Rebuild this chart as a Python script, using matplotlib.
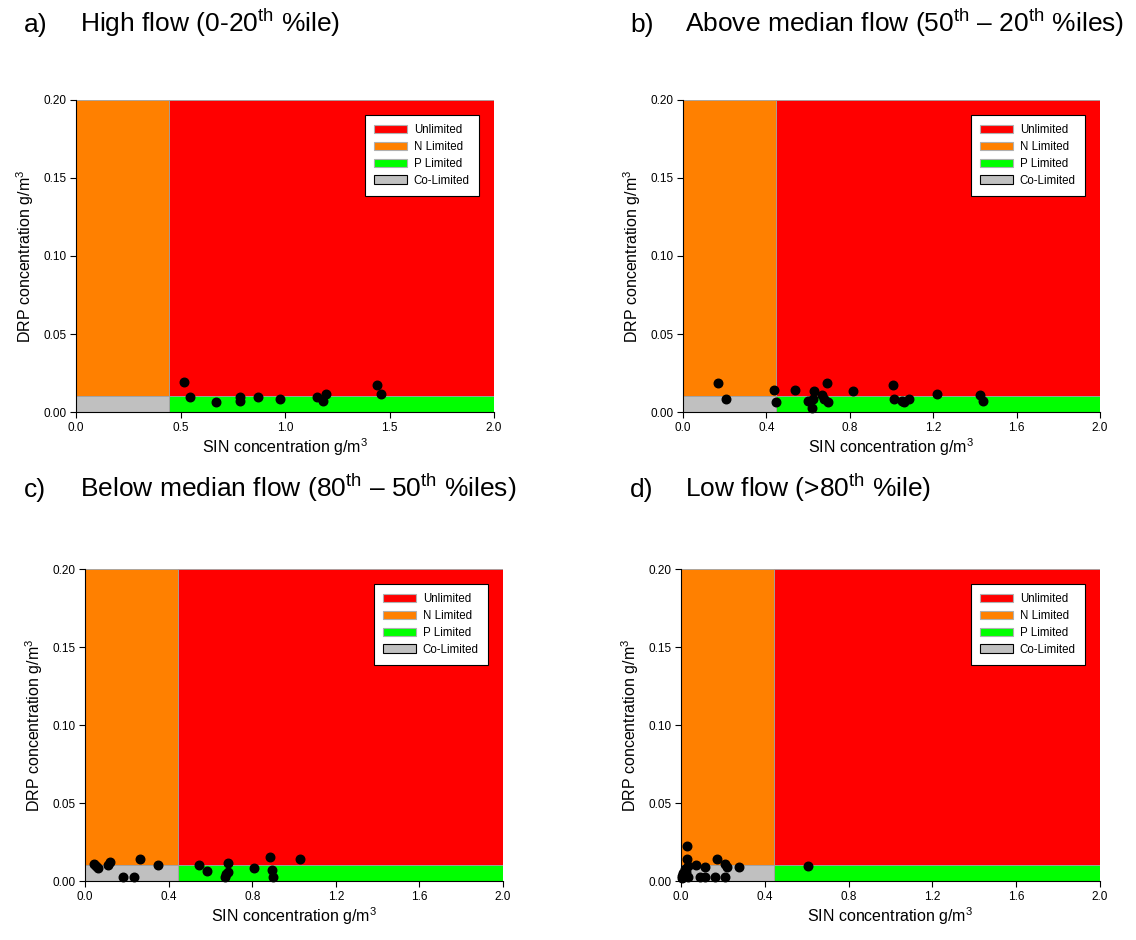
import matplotlib as mpl

mpl.use("Agg")

import matplotlib.pyplot as plt
from matplotlib.patches import Patch, Rectangle

plt.rcParams["font.family"] = ["Liberation Sans", "DejaVu Sans"]
plt.rcParams["mathtext.fontset"] = "custom"
plt.rcParams["mathtext.rm"] = "Liberation Sans"
plt.rcParams["mathtext.it"] = "Liberation Sans"

# thresholds for limitation classes
SIN_LIMIT = 0.444
DRP_LIMIT = 0.01

# a) high flow
a_sin = [0.519, 0.546, 0.669, 0.784, 0.784, 0.873, 0.976, 1.155, 1.182, 1.196, 1.439, 1.460]
a_drp = [0.0192, 0.0094, 0.0062, 0.0094, 0.0072, 0.0094, 0.0083, 0.0094, 0.0072, 0.0115, 0.0173, 0.0113]

# b) above median flow
b_sin = [0.169, 0.204, 0.437, 0.445, 0.537, 0.601, 0.617, 0.625, 0.630, 0.665, 0.676,
         0.690, 0.694, 0.816, 1.008, 1.014, 1.051, 1.062, 1.086, 1.218, 1.424, 1.440]
b_drp = [0.0183, 0.0083, 0.0143, 0.0062, 0.0143, 0.0072, 0.0028, 0.0085, 0.0132, 0.0106, 0.0085,
         0.0188, 0.0062, 0.0135, 0.0173, 0.0083, 0.0072, 0.0062, 0.0083, 0.0113, 0.0106, 0.0072]

# c) below median flow
c_sin = [0.041, 0.053, 0.064, 0.108, 0.118, 0.182, 0.236, 0.262, 0.348, 0.547,
         0.583, 0.668, 0.674, 0.682, 0.684, 0.809, 0.884, 0.895, 0.900, 1.028]
c_drp = [0.0109, 0.0096, 0.0081, 0.0105, 0.0124, 0.0028, 0.0028, 0.0144, 0.0105, 0.0105,
         0.0064, 0.0026, 0.0043, 0.0056, 0.0113, 0.0083, 0.0154, 0.0073, 0.0028, 0.0144]

# d) low flow
d_sin = [0.030, 0.027, 0.032, 0.019, 0.011, 0.006, 0.032, 0.070, 0.091, 0.115, 0.115,
         0.162, 0.173, 0.210, 0.218, 0.210, 0.278, 0.608, 0.012, 0.004, 0.022]
d_drp = [0.0224, 0.0144, 0.0096, 0.0079, 0.0054, 0.0032, 0.0028, 0.0105, 0.0028, 0.0092, 0.0028,
         0.0028, 0.0139, 0.0109, 0.0088, 0.0028, 0.0092, 0.0094, 0.0040, 0.0020, 0.0060]

titles = [
    ("a)", r"High flow (0-20$^{\mathrm{th}}$ %ile)"),
    ("b)", r"Above median flow (50$^{\mathrm{th}}$ – 20$^{\mathrm{th}}$ %iles)"),
    ("c)", r"Below median flow (80$^{\mathrm{th}}$ – 50$^{\mathrm{th}}$ %iles)"),
    ("d)", r"Low flow (>80$^{\mathrm{th}}$ %ile)"),
]
xticks_a = [0.0, 0.5, 1.0, 1.5, 2.0]
xticks_other = [0.0, 0.4, 0.8, 1.2, 1.6, 2.0]
yticks = [0.00, 0.05, 0.10, 0.15, 0.20]

RED = "#ff0000"
ORANGE = "#ff8000"
GREEN = "#00ff00"
GREY = "#c0c0c0"


def draw_panel(ax, sin, drp, xticks):
    ax.set_xlim(0, 2.0)
    ax.set_ylim(0, 0.20)
    ec = "#a0a0a0"
    ax.add_patch(Rectangle((SIN_LIMIT, DRP_LIMIT), 2.0 - SIN_LIMIT, 0.20 - DRP_LIMIT,
                           fc=RED, ec=ec, lw=0.6, zorder=1))
    ax.add_patch(Rectangle((0, DRP_LIMIT), SIN_LIMIT, 0.20 - DRP_LIMIT,
                           fc=ORANGE, ec=ec, lw=0.6, zorder=1))
    ax.add_patch(Rectangle((SIN_LIMIT, 0), 2.0 - SIN_LIMIT, DRP_LIMIT,
                           fc=GREEN, ec=ec, lw=0.6, zorder=1))
    ax.add_patch(Rectangle((0, 0), SIN_LIMIT, DRP_LIMIT,
                           fc=GREY, ec=ec, lw=0.6, zorder=1))
    ax.scatter(sin, drp, s=38, color="black", zorder=5, clip_on=False)

    ax.spines["top"].set_visible(False)
    ax.spines["right"].set_visible(False)
    for s in ("left", "bottom"):
        ax.spines[s].set_linewidth(0.8)
        ax.spines[s].set_zorder(6)
    ax.set_xticks(xticks)
    ax.set_xticklabels([f"{t:.1f}" for t in xticks])
    ax.set_yticks(yticks)
    ax.set_yticklabels([f"{t:.2f}" for t in yticks])
    ax.tick_params(direction="out", length=4, width=0.8, labelsize=8.5, pad=3)

    ax.set_xlabel(r"SIN concentration g/m$^{\mathrm{3}}$", fontsize=11.5, labelpad=2)
    ax.set_ylabel(r"DRP concentration g/m$^{\mathrm{3}}$", fontsize=11.5, labelpad=5)

    handles = [
        Patch(fc=RED, ec="#b0b0b0", lw=0.8, label="Unlimited"),
        Patch(fc=ORANGE, ec="#b0b0b0", lw=0.8, label="N Limited"),
        Patch(fc=GREEN, ec="#b0b0b0", lw=0.8, label="P Limited"),
        Patch(fc=GREY, ec="black", lw=0.8, label="Co-Limited"),
    ]
    leg = ax.legend(handles=handles, loc="upper right", bbox_to_anchor=(0.964, 0.952),
                    borderaxespad=0, fontsize=8.3, frameon=True, fancybox=False,
                    framealpha=1, edgecolor="black", handlelength=2.9, handleheight=0.75,
                    labelspacing=0.42, borderpad=0.8, handletextpad=0.55)
    leg.get_frame().set_linewidth(0.8)
    leg.set_zorder(10)


fig = plt.figure(figsize=(11.36, 9.40), dpi=100)
W, H = 1136, 940
boxes = [
    (76, 100, 494, 412),
    (683, 100, 1100, 412),
    (85, 569, 503, 881),
    (681, 569, 1100, 881),
]
panel_data = [(a_sin, a_drp, xticks_a), (b_sin, b_drp, xticks_other),
              (c_sin, c_drp, xticks_other), (d_sin, d_drp, xticks_other)]
title_pos = [(24, 80, 32), (630, 685, 32), (24, 80, 497), (630, 685, 497)]

for (x0, y0, x1, y1), (s, d, xt), (lab, txt), (lx, tx, ty) in zip(boxes, panel_data, titles, title_pos):
    ax = fig.add_axes([x0 / W, 1 - y1 / H, (x1 - x0) / W, (y1 - y0) / H])
    draw_panel(ax, s, d, xt)
    fig.text(lx / W, 1 - ty / H, lab, fontsize=19, va="baseline", ha="left")
    fig.text(tx / W, 1 - ty / H, txt, fontsize=19, va="baseline", ha="left")

fig.savefig("out.png", dpi=100)
